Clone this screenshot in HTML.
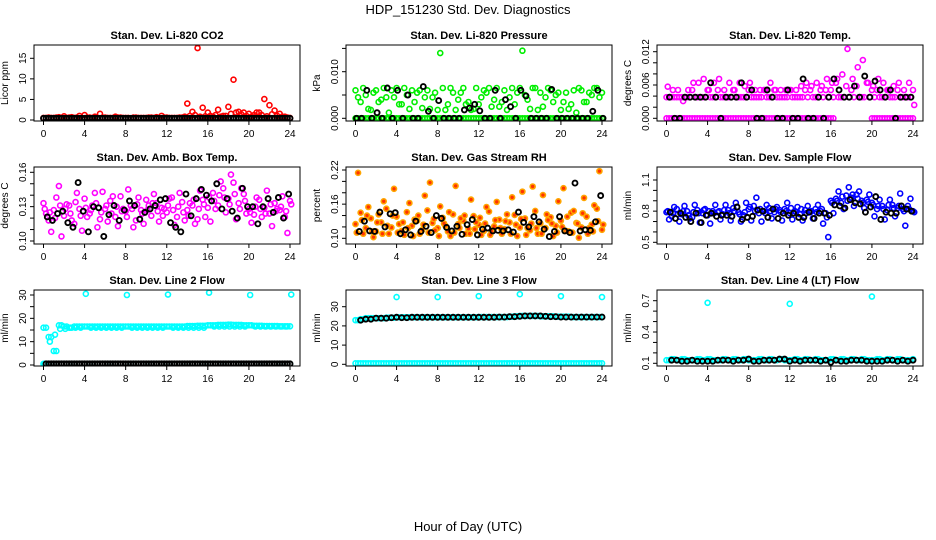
<!DOCTYPE html>
<html><head><meta charset="utf-8"><style>
html,body{margin:0;padding:0;background:#fff;}
svg{display:block;font-family:"Liberation Sans",Arial,sans-serif;}
</style></head><body>
<svg id="chart" width="936" height="540" viewBox="0 0 936 540" xmlns="http://www.w3.org/2000/svg">
<rect x="0" y="0" width="936" height="540" fill="#fff"/>
<text x="468" y="14" text-anchor="middle" font-size="13">HDP_151230  Std. Dev. Diagnostics</text>
<text x="468" y="531" text-anchor="middle" font-size="13">Hour of Day (UTC)</text>
</svg>
<script>
const hours=[0,0.5,1,1.5,2,2.5,3,3.5,4,4.5,5,5.5,6,6.5,7,7.5,8,8.5,9,9.5,10,10.5,11,11.5,12,12.5,13,13.5,14,14.5,15,15.5,16,16.5,17,17.5,18,18.5,19,19.5,20,20.5,21,21.5,22,22.5,23,23.5,24];
const xTicks=[0,4,8,12,16,20,24];

// CO2
const co2Main=[0.5,0.6,0.5,0.7,0.9,0.6,0.5,1.0,1.2,0.6,0.8,1.5,0.6,0.5,0.8,0.6,0.5,0.4,0.6,0.5,0.5,0.6,0.7,1.0,0.6,0.5,0.5,0.6,4.0,2.0,17.5,3.0,1.8,0.8,2.5,1.0,3.2,9.8,2.0,1.8,1.5,1.2,1.8,5.1,3.6,2.3,1.5,0.8,0.5];
const co2Alt=[0.5,0.5,0.6,0.5,0.5,0.7,0.6,0.5,0.6,0.5,0.5,0.6,0.5,0.5,0.6,0.5,0.5,0.6,0.5,0.5,0.6,0.5,0.5,0.6,0.5,0.5,0.6,0.8,1.0,1.2,0.8,0.9,1.0,1.2,0.8,1.0,1.5,1.8,1.4,1.0,0.8,1.8,1.2,0.9,1.4,1.0,0.8,0.6,0.5];
const co2Black=[0.4,0.4,0.4,0.4,0.4,0.4,0.4,0.4,0.4,0.4,0.4,0.4,0.4,0.4,0.4,0.4,0.4,0.4,0.4,0.4,0.4,0.4,0.4,0.4,0.4,0.4,0.4,0.4,0.4,0.4,0.4,0.4,0.4,0.4,0.4,0.4,0.4,0.4,0.4,0.4,0.4,0.4,0.4,0.4,0.4,0.4,0.4,0.4,0.4];
// Pressure
const pressMain=[0.006,0.0035,0.005,0.0018,0.006,0.004,0.0045,0.006,0.0065,0.003,0.005,0.006,0.0055,0.0022,0.006,0.0045,0.0018,0.0065,0.003,0.0055,0.004,0.0065,0.0035,0.002,0.003,0.006,0.0065,0.004,0.0025,0.006,0.0045,0.003,0.0065,0.005,0.002,0.0065,0.0055,0.0045,0.006,0.005,0.0018,0.0055,0.003,0.0012,0.006,0.0035,0.005,0.0065,0.0055];
const pressAlt=[0.0045,0.0065,0.002,0.0055,0.0035,0.0065,0.0012,0.0045,0.003,0.0065,0.002,0.0035,0.006,0.0045,0.002,0.0055,0.014,0.0018,0.0065,0.0018,0.0055,0.003,0.0018,0.0065,0.0045,0.0055,0.0025,0.0065,0.0035,0.0018,0.0065,0.0055,0.0145,0.004,0.0065,0.0018,0.0025,0.0065,0.0035,0.0055,0.0035,0.002,0.006,0.0065,0.0035,0.0055,0.0065,0.0045,0.0145];
const pressZero=[0,0,0,0,0,0,0,0,0,0,0,0,0,0,0,0,0,0,0,0,0,0,0,0,0,0,0,0,0,0,0,0,0,0,0,0,0,0,0,0,0,0,0,0,0,0,0,0,0];
const pressBlack=[0,0,0.006,0,0.0012,0,0.0065,0,0.006,0,0.005,0,0,0.0068,0.0015,0,0.0038,0,0,0,0,0.0018,0.0022,0.003,0.0016,0,0,0.006,0,0.004,0.0025,0,0.006,0.0048,0,0,0,0,0.0062,0,0,0,0,0,0,0,0.0015,0.006,0];
// Li temp
const tempMid=[0.0038,0.0038,0.0038,0.0038,0.0038,0.0051,0.0038,0.0038,0.0051,0.0038,0.0051,0.0038,0.0038,0.0051,0.0038,0.0038,0.0051,0.0038,0.0038,0.0051,0.0038,0.0051,0.0038,0.0038,0.0051,0.0038,0.0038,0.0051,0.0051,0.0038,0.0051,0.0051,0.0051,0.0064,0.0038,0.0058,0.0051,0.0058,0.0038,0.0064,0.0051,0.0051,0.0038,0.0051,0.0038,0.0051,0.0038,0.0038,0.0051];
const tempBase=[0.0038,0.0038,0.0038,0.0038,0.0038,0.0038,0.0038,0.0038,0.0038,0.0038,0.0038,0.0038,0.0038,0.0038,0.0038,0.0038,0.0038,0.0038,0.0038,0.0038,0.0038,0.0038,0.0038,0.0038,0.0038,0.0038,0.0038,0.0038,0.0038,0.0038,0.0038,0.0038,0.0038,0.0038,0.0038,0.0038,0.0038,0.0038,0.0038,0.0038,0.0038,0.0038,0.0038,0.0038,0.0038,0.0038,0.0038,0.0038,0.0038];
const tempScatter=[0.0057,0.0051,0.0051,0.0031,0.0051,0.0064,0.0064,0.0071,0.0051,0.0064,0.0071,0.0051,0.0064,0.0051,0.0064,0.0058,0.0064,0.0051,0.0051,0.0051,0.0064,0.0051,0.0051,0.0051,0.0051,0.0051,0.0058,0.0064,0.0058,0.0064,0.0058,0.0071,0.0064,0.0071,0.0079,0.0125,0.0071,0.0092,0.0105,0.0064,0.0058,0.0071,0.0064,0.0051,0.0058,0.0064,0.0051,0.0064,0.0024];
const tempZero=[0,0,0,0,0,0,0,0,0,0,0,0,0,0,0,0,0,0,0,0,0,0,0,0,0,0,0,0,0,0,0,0,0,null,null,null,null,null,null,null,0,0,0,0,0,0,0,0,0];
const tempBlack=[0.0038,0,0,0.0038,0.0038,0.0038,0.0038,0.0038,0.0064,0.0038,0,0.0038,0.0038,0.0038,0.0064,0.0038,0.0051,0,0,0.0051,0.0038,0,0,0.0051,0,0,0.0071,0,0,0.0038,0,0.0038,0.0071,0.0051,0.0038,0.0038,0.0058,0.0038,0.0076,0.0038,0.0067,0.0051,0.0038,0.0051,0,0.0038,0.0038,0.0038,0.0064];
// Amb box
const ambMain=[0.133,0.118,0.127,0.148,0.122,0.131,0.115,0.128,0.137,0.124,0.142,0.119,0.128,0.135,0.121,0.139,0.126,0.131,0.118,0.127,0.136,0.122,0.133,0.129,0.125,0.138,0.121,0.134,0.127,0.131,0.119,0.136,0.129,0.142,0.131,0.146,0.137,0.151,0.133,0.141,0.128,0.123,0.136,0.129,0.124,0.133,0.127,0.121,0.135];
const ambAlt=[0.124,0.108,0.138,0.104,0.132,0.118,0.142,0.109,0.121,0.131,0.112,0.143,0.117,0.139,0.113,0.128,0.145,0.112,0.138,0.115,0.131,0.141,0.117,0.128,0.137,0.114,0.142,0.118,0.133,0.115,0.144,0.121,0.117,0.128,0.152,0.125,0.158,0.119,0.146,0.124,0.116,0.138,0.121,0.144,0.113,0.128,0.139,0.107,0.128];
const ambExtra=[0.128,0.125,0.120,0.131,0.128,0.124,0.134,0.122,0.129,0.127,0.133,0.125,0.131,0.124,0.130,0.126,0.121,0.128,0.132,0.124,0.127,0.133,0.126,0.122,0.131,0.127,0.130,0.125,0.122,0.136,0.128,0.132,0.138,0.135,0.140,0.138,0.132,0.141,0.128,0.135,0.125,0.130,0.128,0.124,0.132,0.126,0.130,0.126,0.132];
const ambBlack=[0.121,0.118,0.124,0.126,0.116,0.112,0.151,0.126,0.108,0.130,0.129,0.104,0.123,0.131,0.118,0.127,0.135,0.131,0.119,0.125,0.128,0.131,0.136,0.137,0.116,0.112,0.108,0.141,0.122,0.137,0.145,0.140,0.135,0.150,0.128,0.137,0.126,0.120,0.146,0.130,0.130,0.115,0.130,0.137,0.125,0.138,0.120,0.141,0.114];
// RH
const rhMain=[0.125,0.145,0.118,0.135,0.112,0.128,0.152,0.119,0.138,0.113,0.146,0.122,0.131,0.115,0.149,0.127,0.118,0.136,0.112,0.142,0.125,0.131,0.117,0.139,0.124,0.113,0.147,0.121,0.133,0.116,0.128,0.141,0.119,0.135,0.114,0.148,0.126,0.118,0.137,0.122,0.131,0.113,0.145,0.127,0.119,0.138,0.124,0.152,0.115];
const rhAlt=[0.215,0.108,0.155,0.102,0.142,0.165,0.108,0.187,0.125,0.106,0.162,0.133,0.108,0.175,0.198,0.114,0.156,0.122,0.104,0.192,0.135,0.108,0.168,0.128,0.106,0.155,0.112,0.164,0.108,0.142,0.172,0.104,0.182,0.118,0.191,0.108,0.176,0.132,0.104,0.165,0.188,0.112,0.148,0.101,0.171,0.118,0.158,0.218,0.106];
const rhExtra=[0.110,0.132,0.140,0.112,0.128,0.108,0.122,0.140,0.110,0.128,0.118,0.104,0.140,0.124,0.110,0.134,0.104,0.126,0.146,0.110,0.118,0.140,0.108,0.116,0.136,0.126,0.106,0.132,0.118,0.130,0.108,0.124,0.134,0.106,0.126,0.118,0.108,0.142,0.126,0.110,0.120,0.138,0.110,0.126,0.144,0.108,0.112,0.130,0.124];
const rhBlack=[0.112,0.130,0.113,0.112,0.146,0.120,0.143,0.145,0.108,0.115,0.106,0.130,0.112,0.121,0.110,0.140,0.135,0.119,0.113,0.121,0.107,0.124,0.133,0.106,0.116,0.118,0.113,0.114,0.113,0.115,0.111,0.146,0.128,0.120,0.138,0.129,0.116,0.103,0.112,0.138,0.113,0.110,0.197,0.113,0.115,0.114,0.129,0.175,0.108];
// Sample flow
const flowMain=[0.79,0.75,0.82,0.77,0.80,0.74,0.81,0.78,0.76,0.80,0.79,0.77,0.81,0.83,0.79,0.76,0.82,0.85,0.78,0.80,0.83,0.79,0.81,0.82,0.78,0.80,0.77,0.81,0.79,0.82,0.80,0.78,0.90,0.92,0.88,0.95,0.93,0.96,0.90,0.91,0.88,0.82,0.85,0.81,0.86,0.83,0.82,0.85,0.80];
const flowAlt=[0.72,0.84,0.70,0.85,0.73,0.86,0.69,0.82,0.68,0.86,0.72,0.86,0.71,0.88,0.70,0.88,0.71,0.93,0.70,0.86,0.73,0.84,0.71,0.88,0.72,0.84,0.71,0.85,0.73,0.86,0.68,0.55,0.78,0.99,0.82,1.03,0.85,0.99,0.83,0.96,0.75,0.91,0.72,0.91,0.75,0.97,0.66,0.92,0.73];
const flowExtra=[0.80,0.78,0.77,0.80,0.76,0.79,0.78,0.81,0.80,0.78,0.80,0.81,0.78,0.80,0.77,0.79,0.84,0.80,0.82,0.78,0.80,0.82,0.79,0.80,0.83,0.79,0.82,0.78,0.80,0.79,0.82,0.74,0.88,0.90,0.94,0.90,0.96,0.92,0.88,0.89,0.86,0.85,0.82,0.86,0.83,0.85,0.80,0.82,0.79];
const flowBlack=[0.79,0.73,0.78,0.74,0.70,0.78,0.69,0.76,0.78,0.75,0.76,0.76,0.75,0.84,0.72,0.74,0.75,0.81,0.80,0.74,0.82,0.73,0.78,0.76,0.78,0.74,0.74,0.79,0.73,0.78,0.78,0.76,0.86,0.85,0.83,0.91,0.88,0.87,0.79,0.84,0.94,0.72,0.79,0.78,0.78,0.85,0.82,0.80,0.78];
// Line 2
const l2Main=[16,12,6,17,16.5,16,16.5,16.5,16.5,16.5,16.5,16.5,16.5,16.5,16.5,16.5,16.5,16.5,16.5,16.5,16.5,16.5,16.5,16.5,16.5,16.5,16.5,16.5,16.7,16.7,16.8,16.8,17,17,17.2,17.2,17.3,17.2,17.2,17,17,16.8,16.8,16.7,16.7,16.7,16.6,16.6,16.6];
const l2Alt=[0.5,10,13,15.5,15.5,16,16,16,30.5,16,16,16,16,16,16,16,30,16,16,16,16,16,16,16,30.2,16,16,16,16,16,16,16,31,16.5,16.5,16.5,16.5,16.5,16.5,16.5,30,16.5,16.5,16.5,16.5,16.5,16.5,16.5,30.2];
const l2Zero=[0.5,0.5,0.5,0.5,0.5,0.5,0.5,0.5,0.5,0.5,0.5,0.5,0.5,0.5,0.5,0.5,0.5,0.5,0.5,0.5,0.5,0.5,0.5,0.5,0.5,0.5,0.5,0.5,0.5,0.5,0.5,0.5,0.5,0.5,0.5,0.5,0.5,0.5,0.5,0.5,0.5,0.5,0.5,0.5,0.5,0.5,0.5,0.5,0.5];
// Line 3
const l3Main=[23,23.5,24,24,24,24,24.3,24.3,24.5,24.5,24.5,24.5,24.5,24.5,24.5,24.5,24.5,24.5,24.5,24.5,24.5,24.5,24.5,24.5,24.6,24.6,24.6,24.6,24.6,24.6,24.8,25,25.2,25.2,25.2,25.2,25,25,25,24.8,24.8,24.8,24.6,24.6,24.6,24.6,24.6,24.6,24.6];
const l3Spike=[null,null,null,null,null,null,null,null,35,null,null,null,null,null,null,null,35,null,null,null,null,null,null,null,35.5,null,null,null,null,null,null,null,36.5,null,null,null,null,null,null,null,35.5,null,null,null,null,null,null,null,35];
const l3Zero=[0.5,0.5,0.5,0.5,0.5,0.5,0.5,0.5,0.5,0.5,0.5,0.5,0.5,0.5,0.5,0.5,0.5,0.5,0.5,0.5,0.5,0.5,0.5,0.5,0.5,0.5,0.5,0.5,0.5,0.5,0.5,0.5,0.5,0.5,0.5,0.5,0.5,0.5,0.5,0.5,0.5,0.5,0.5,0.5,0.5,0.5,0.5,0.5,0.5];
const l3Black=[null,23,23.5,23.5,24,24,24,24.3,24.5,24.3,24.3,24.5,24.5,24.5,24.5,24.5,24.5,24.5,24.5,24.5,24.5,24.5,24.5,24.5,24.5,24.5,24.5,24.5,24.6,24.6,24.8,24.8,25,25.2,25.2,25.2,25.2,25,24.8,24.8,24.6,24.6,24.6,24.6,24.6,24.6,24.6,24.6,24.6];
// Line 4
const l4Main=[0.13,0.14,0.13,0.14,0.13,0.13,0.14,0.13,0.14,0.13,0.13,0.14,0.13,0.14,0.13,0.14,0.13,0.13,0.14,0.13,0.14,0.13,0.14,0.13,0.13,0.14,0.13,0.14,0.13,0.14,0.13,0.13,0.14,0.13,0.14,0.13,0.14,0.13,0.14,0.13,0.13,0.14,0.13,0.14,0.13,0.14,0.13,0.13,0.14];
const l4Spike=[null,null,null,null,null,null,null,null,0.68,null,null,null,null,null,null,null,null,null,null,null,null,null,null,null,0.67,null,null,null,null,null,null,null,null,null,null,null,null,null,null,null,0.74,null,null,null,null,null,null,null,null];
const l4Black=[null,0.13,0.13,0.12,0.12,0.13,0.12,0.12,0.12,0.12,0.13,0.13,0.13,0.12,0.13,0.13,0.14,0.12,0.12,0.13,0.13,0.13,0.14,0.14,0.12,0.13,0.12,0.13,0.13,0.13,0.12,0.13,0.11,0.13,0.12,0.12,0.13,0.13,0.13,0.12,0.12,0.12,0.12,0.13,0.13,0.12,0.13,0.12,0.13];

const NS="http://www.w3.org/2000/svg";
const svg=document.getElementById('chart');
function mk(tag,attrs,parent){const e=document.createElementNS(NS,tag);for(const k in attrs)e.setAttribute(k,attrs[k]);(parent||svg).appendChild(e);return e;}

const cols=[[34,300],[346,612],[657,923]];
const rows=[[45,121],[167,244],[290,366]];
const K='#000000';

const panels=[
 {name:'co2',title:'Stan. Dev. Li-820 CO2',ylab:'Licor ppm',c:0,r:0,cal:[0,120,15,58.3],ticks:[0,5,10,15],labels:[0,5,10,15],fmt:v=>String(v),
  series:[[co2Alt,'#ff0000',null,0.25],[co2Main,'#ff0000',null,0],[co2Black,K,null,0.25],[co2Black,K,null,0]]},
 {name:'pressure',title:'Stan. Dev. Li-820 Pressure',ylab:'kPa',c:1,r:0,cal:[0,118.3,0.01,71.7],ticks:[0,0.005,0.01,0.015],labels:[0,0.01],fmt:v=>v.toFixed(3),
  series:[[pressZero,'#00ee00',null,0],[pressZero,'#00ee00',null,0.25],[pressMain,'#00ee00',null,0],[pressAlt,'#00ee00',null,0.25],[pressBlack,K,null,0.1]]},
 {name:'li-temp',title:'Stan. Dev. Li-820 Temp.',ylab:'degrees C',c:2,r:0,cal:[0,118.3,0.012,51.7],ticks:[0,0.002,0.004,0.006,0.008,0.01,0.012],labels:[0,0.006,0.012],fmt:v=>v.toFixed(3),
  series:[[tempZero,'#ff00ff',null,0],[tempZero,'#ff00ff',null,0.25],[tempBase,'#ff00ff',null,0.25],[tempMid,'#ff00ff',null,0],[tempScatter,'#ff00ff',null,0.12],[tempBlack,K,null,0.3]]},
 {name:'amb-box-temp',title:'Stan. Dev. Amb. Box Temp.',ylab:'degrees C',c:0,r:1,cal:[0.10,241,0.16,172.3],ticks:[0.10,0.11,0.12,0.13,0.14,0.15,0.16],labels:[0.10,0.13,0.16],fmt:v=>v.toFixed(2),
  series:[[ambMain,'#ff00ff',null,0],[ambAlt,'#ff00ff',null,0.25],[ambExtra,'#ff00ff',null,0.12],[ambBlack,K,null,0.37]]},
 {name:'gas-stream-rh',title:'Stan. Dev. Gas Stream RH',ylab:'percent',c:1,r:1,cal:[0.10,238.3,0.22,170],ticks:[0.10,0.12,0.14,0.16,0.18,0.20,0.22],labels:[0.10,0.16,0.22],fmt:v=>v.toFixed(2),
  series:[[rhMain,'#ffa500','#ff3300',0],[rhAlt,'#ffa500','#ff3300',0.25],[rhExtra,'#ffa500','#ff3300',0.12],[rhBlack,K,null,0.37]]},
 {name:'sample-flow',title:'Stan. Dev. Sample Flow',ylab:'ml/min',c:2,r:1,cal:[0.5,242.3,1.1,180],ticks:[0.5,0.6,0.7,0.8,0.9,1.0,1.1],labels:[0.5,0.8,1.1],fmt:v=>v.toFixed(1),
  series:[[flowMain,'#0000ff',null,0],[flowAlt,'#0000ff',null,0.25],[flowExtra,'#0000ff',null,0.12],[flowBlack,K,null,0.37]]},
 {name:'line2-flow',title:'Stan. Dev. Line 2 Flow',ylab:'ml/min',c:0,r:2,cal:[0,365,30,295],ticks:[0,5,10,15,20,25,30],labels:[0,10,20,30],fmt:v=>String(v),
  series:[[l2Zero,'#00ffff',null,0],[l2Main,'#00ffff',null,0],[l2Main,'#00ffff',null,0.25],[l2Alt,'#00ffff',null,0.12],[l2Zero,K,null,0.25],[l2Zero,K,null,0.5]]},
 {name:'line3-flow',title:'Stan. Dev. Line 3 Flow',ylab:'ml/min',c:1,r:2,cal:[0,364.3,30,306.7],ticks:[0,10,20,30],labels:[0,10,20,30],fmt:v=>String(v),
  series:[[l3Zero,'#00ffff',null,0],[l3Zero,'#00ffff',null,0.25],[l3Main,'#00ffff',null,0],[l3Main,'#00ffff',null,0.25],[l3Spike,'#00ffff',null,0],[l3Black,K,null,0]]},
 {name:'line4-flow',title:'Stan. Dev. Line 4 (LT) Flow',ylab:'ml/min',c:2,r:2,cal:[0.1,363.3,0.7,300.7],ticks:[0.1,0.2,0.3,0.4,0.5,0.6,0.7],labels:[0.1,0.4,0.7],fmt:v=>v.toFixed(1),
  series:[[l4Main,'#00ffff',null,0],[l4Main,'#00ffff',null,0.25],[l4Spike,'#00ffff',null,0],[l4Black,K,null,0]]}
];

panels.forEach(p=>{
  const [L,R]=cols[p.c],[T,B]=rows[p.r];
  const g=mk('g',{});
  
  
  const xs=v=>L+9.5+(v/24)*(R-L-19.5);
  const ys=v=>p.cal[1]+(v-p.cal[0])*(p.cal[3]-p.cal[1])/(p.cal[2]-p.cal[0]);
  const t=mk('text',{x:(L+R)/2,y:T-6,'text-anchor':'middle','font-size':'11','font-weight':'bold'},g);
  t.textContent=p.title;
  
  
  const yl=mk('text',{x:0,y:0,'text-anchor':'middle','font-size':'10',transform:`translate(${L-26},${(T+B)/2}) rotate(-90)`},g);
  yl.textContent=p.ylab;
  
  
  xTicks.forEach(v=>{
    const x=xs(v);
    const tk=mk('line',{x1:x,x2:x,y1:B,y2:B+4,stroke:'#000','stroke-width':1},g);
    
    
    const tl=mk('text',{x:x,y:B+16,'text-anchor':'middle','font-size':'10'},g);
    tl.textContent=String(v);
    
    
  });
  p.ticks.forEach(v=>{
    const y=ys(v);
    const tk=mk('line',{x1:L-4,x2:L,y1:y,y2:y,stroke:'#000','stroke-width':1},g);
    
    
  });
  p.labels.forEach(v=>{
    const y=ys(v);
    const tl=mk('text',{x:0,y:0,'text-anchor':'middle','font-size':'10',transform:`translate(${L-8},${y}) rotate(-90)`},g);
    tl.textContent=p.fmt(v);
    
    
  });
  const clipId='clip-'+p.name;
  const cp=mk('clipPath',{id:clipId},g);
  mk('rect',{x:L,y:T,width:R-L,height:B-T},cp);
  const pts=mk('g',{'clip-path':`url(#${clipId})`},g);
  
  
  p.series.forEach(s=>{
    const [vals,col,inner,off]=s;
    vals.forEach((v,i)=>{
      if(v===null||v===undefined)return;
      const h=hours[i]+(off||0);
      if(h>24.2)return;
      const c=mk('circle',{cx:xs(h),cy:ys(v),r:2.5,fill:inner?inner:'none',stroke:col,'stroke-width':col===K?1.9:1.6},pts);
      
      
    });
  });
  const box=mk('rect',{x:L,y:T,width:R-L,height:B-T,fill:'none',stroke:'#000','stroke-width':1},g);
  
  
});
</script>
</body></html>
